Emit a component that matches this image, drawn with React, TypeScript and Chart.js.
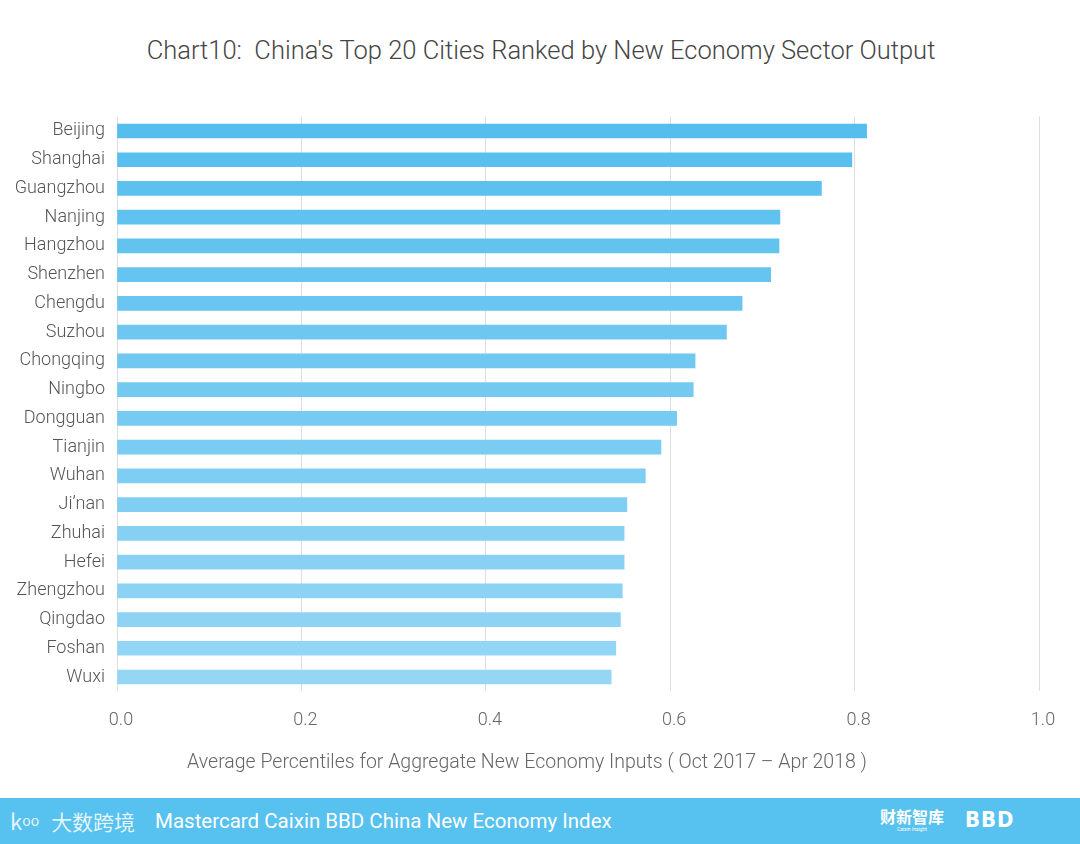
import React, { useEffect, useRef } from "react";
import { Chart, registerables } from "chart.js";

Chart.register(...registerables);

const cities: string[] = [
  "Beijing", "Shanghai", "Guangzhou", "Nanjing", "Hangzhou", "Shenzhen", "Chengdu",
  "Suzhou", "Chongqing", "Ningbo", "Dongguan", "Tianjin", "Wuhan", "Ji’nan",
  "Zhuhai", "Hefei", "Zhengzhou", "Qingdao", "Foshan", "Wuxi",
];

const outputValues: number[] = [
  0.813, 0.797, 0.764, 0.719, 0.718, 0.709, 0.678, 0.661, 0.627, 0.625,
  0.607, 0.59, 0.573, 0.553, 0.55, 0.55, 0.548, 0.546, 0.541, 0.536,
];

const xTicks: number[] = [0, 0.2, 0.4, 0.6, 0.8, 1.0];

const titleText = "Chart10:  China's Top 20 Cities Ranked by New Economy Sector Output";
const xAxisTitle = "Average Percentiles for Aggregate New Economy Inputs ( Oct 2017 – Apr 2018 )";
const footerText = "Mastercard Caixin BBD China New Economy Index";

const colorStart = [85, 190, 238];
const colorEnd = [150, 214, 245];

function barColor(i: number, n: number): string {
  const t = n > 1 ? i / (n - 1) : 0;
  const c = colorStart.map((s, k) => Math.round(s + (colorEnd[k] - s) * t));
  return `rgb(${c[0]},${c[1]},${c[2]})`;
}

export default function App() {
  const canvasRef = useRef<HTMLCanvasElement | null>(null);

  useEffect(() => {
    if (!canvasRef.current) return;
    const chart = new Chart(canvasRef.current, {
      type: "bar",
      data: {
        labels: cities,
        datasets: [
          {
            data: outputValues,
            backgroundColor: cities.map((_, i) => barColor(i, cities.length)),
            borderWidth: 0,
            barThickness: 14,
          },
        ],
      },
      options: {
        indexAxis: "y",
        responsive: false,
        animation: false,
        layout: { padding: { left: 0, right: 41, top: 116.6, bottom: 49 } },
        plugins: {
          legend: { display: false },
          tooltip: { enabled: false },
          title: { display: false },
        },
        scales: {
          x: {
            type: "linear",
            min: 0,
            max: 1,
            afterBuildTicks: (scale: any) => {
              scale.ticks = xTicks.map((v) => ({ value: v }));
            },
            grid: { color: "#dedede", drawTicks: false, lineWidth: 1 },
            border: { display: false },
            ticks: {
              padding: 18,
              labelOffset: 4,
              color: "#666",
              font: { family: "Roboto", size: 18, weight: "300" as any },
              callback: (v: any) => Number(v).toFixed(1),
            },
          },
          y: {
            grid: { display: false, drawTicks: false },
            border: { display: false },
            afterFit: (scale: any) => {
              scale.width = 117;
            },
            ticks: {
              padding: 12,
              color: "#555",
              font: { family: "Roboto", size: 18, weight: "300" as any },
            },
          },
        },
      },
    });
    return () => chart.destroy();
  }, []);

  return (
    <div
      style={{
        position: "absolute",
        left: 0,
        top: 0,
        width: 1080,
        height: 844,
        background: "#fff",
        overflow: "hidden",
        fontFamily: "Roboto, sans-serif",
      }}
    >
      <div
        style={{
          position: "absolute",
          left: 0,
          top: 35,
          width: 1082,
          textAlign: "center",
          fontSize: 25.5,
          lineHeight: "30px",
          fontWeight: 300,
          color: "#454545",
          whiteSpace: "pre",
        }}
      >
        {titleText}
      </div>
      <canvas
        ref={canvasRef}
        width={1080}
        height={798}
        style={{ display: "block", position: "absolute", left: 0, top: 0 }}
      />
      <div
        style={{
          position: "absolute",
          left: 0,
          top: 750,
          width: 1054,
          textAlign: "center",
          fontSize: 19.5,
          lineHeight: "24px",
          fontWeight: 300,
          color: "#666",
          whiteSpace: "nowrap",
        }}
      >
        {xAxisTitle}
      </div>
      <div
        style={{
          position: "absolute",
          left: 0,
          top: 798,
          width: 1080,
          height: 46,
          background: "#57c1ef",
          color: "#fff",
        }}
      >
        <div
          style={{
            position: "absolute",
            left: 10,
            top: 8,
            fontSize: 24,
            lineHeight: "28px",
            color: "rgba(255,255,255,0.85)",
            fontFamily: "'Noto Sans CJK SC', sans-serif",
            whiteSpace: "nowrap",
          }}
        >
          <span style={{ fontSize: 22 }}>k</span>
          <span style={{ fontSize: 14, verticalAlign: "top" }}>oo</span>
          <span style={{ marginLeft: 12, fontSize: 21 }}>大数跨境</span>
        </div>
        <div
          style={{
            position: "absolute",
            left: 155,
            top: 10,
            fontSize: 20.5,
            lineHeight: "26px",
            fontWeight: 400,
            whiteSpace: "nowrap",
          }}
        >
          {footerText}
        </div>
        <div
          style={{
            position: "absolute",
            left: 880,
            top: 8,
            width: 64,
            textAlign: "center",
            fontFamily: "'Noto Sans CJK SC', sans-serif",
            fontWeight: 700,
            fontSize: 16,
            lineHeight: "20px",
            whiteSpace: "nowrap",
          }}
        >
          财新智库
          <div style={{ fontSize: 5, lineHeight: "6px", fontWeight: 400, fontFamily: "Roboto" }}>
            Caixin Insight
          </div>
        </div>
        <div
          style={{
            position: "absolute",
            left: 965,
            top: 9,
            fontSize: 22,
            lineHeight: "26px",
            fontWeight: 900,
            letterSpacing: 1,
            fontFamily: "'DejaVu Sans', sans-serif",
            transform: "scaleX(0.9)",
            transformOrigin: "left",
          }}
        >
          BBD
        </div>
      </div>
    </div>
  );
}
